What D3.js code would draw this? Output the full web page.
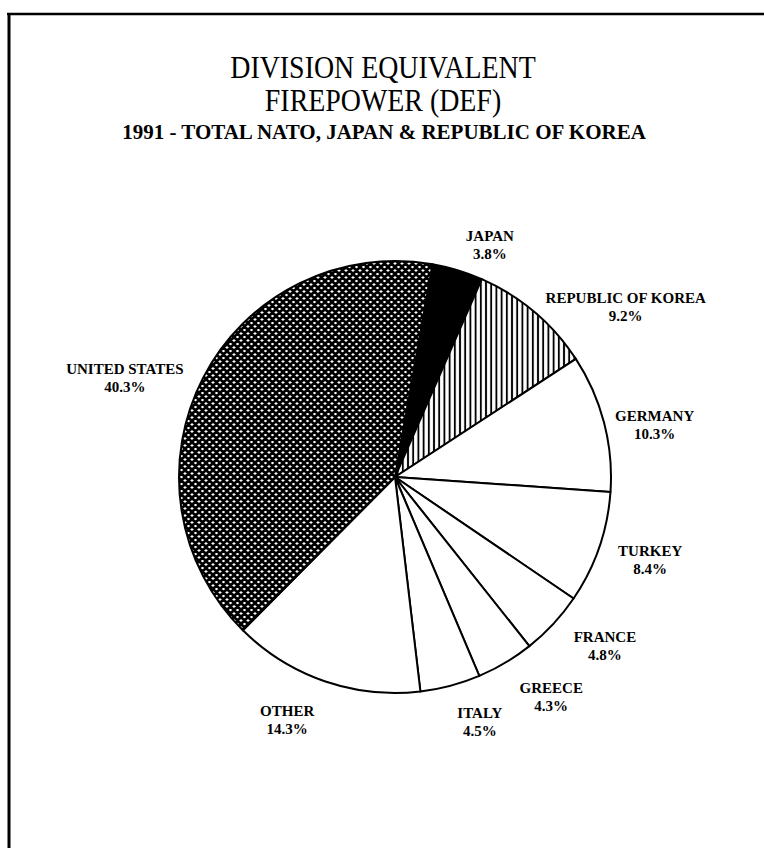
<!DOCTYPE html>
<html>
<head>
<meta charset="utf-8">
<script src="https://cdn.jsdelivr.net/npm/d3@7"></script>
<style>
  html, body { margin: 0; padding: 0; background: #fff; }
  svg { display: block; }
</style>
</head>
<body>
<svg id="chart" width="764" height="848"></svg>
<script>
// ---- data ----
const categories = ["JAPAN", "REPUBLIC OF KOREA", "GERMANY", "TURKEY", "FRANCE", "GREECE", "ITALY", "OTHER", "UNITED STATES"];
const values = [3.8, 9.2, 10.3, 8.4, 4.8, 4.3, 4.5, 14.3, 40.3];
const valueLabels = ["3.8%", "9.2%", "10.3%", "8.4%", "4.8%", "4.3%", "4.5%", "14.3%", "40.3%"];
const fills = ["black", "url(#vlines)", "white", "white", "white", "white", "white", "white", "url(#xhatch)"];
// label placement (polar, degrees clockwise from 12 o'clock, and radius)
const labelAngles = [22.1, 53.5, 78.5, 107.8, 128.7, 144.5, 160.8, 204.0, 290.3];
const labelRadii = [252, 287, 265, 268, 269, 269, 258, 265, 288];

const titleLines = ["DIVISION EQUIVALENT", "FIREPOWER (DEF)"];
const subtitle = "1991 - TOTAL NATO, JAPAN & REPUBLIC OF KOREA";

// ---- drawing ----
const svg = d3.select("#chart");
const W = 764, H = 848;
const cx = 395, cy = 477, R = 216;

const defs = svg.append("defs");
const xh = defs.append("pattern").attr("id", "xhatch")
  .attr("patternUnits", "userSpaceOnUse").attr("width", 7).attr("height", 7);
xh.append("rect").attr("width", 7).attr("height", 7).attr("fill", "white");
xh.append("path").attr("d", "M-1,-1L8,8M8,-1L-1,8M-1,6L1,8M6,-1L8,1M-1,1L1,-1M6,8L8,6")
  .attr("stroke", "black").attr("stroke-width", 2.7);

const vl = defs.append("pattern").attr("id", "vlines")
  .attr("patternUnits", "userSpaceOnUse").attr("width", 5.2).attr("height", 10);
vl.append("rect").attr("width", 5.2).attr("height", 10).attr("fill", "white");
vl.append("line").attr("x1", 2.6).attr("x2", 2.6).attr("y1", 0).attr("y2", 10)
  .attr("stroke", "black").attr("stroke-width", 1.9);

// frame
svg.append("line").attr("x1", 7).attr("x2", W).attr("y1", 14).attr("y2", 14)
  .attr("stroke", "black").attr("stroke-width", 2.5);
svg.append("line").attr("x1", 9).attr("x2", 9).attr("y1", 13).attr("y2", H)
  .attr("stroke", "black").attr("stroke-width", 3);

// titles
const tg = svg.append("g").attr("font-family", "'Liberation Serif', 'Times New Roman', serif")
  .attr("text-anchor", "middle").attr("fill", "black");
tg.selectAll("text.title").data(titleLines).join("text").attr("class", "title")
  .attr("transform", (d, i) => `translate(383,${78 + i * 33}) scale(0.9,1)`)
  .attr("font-size", 31).text(d => d);
tg.append("text").attr("x", 384).attr("y", 139)
  .attr("font-size", 21).attr("font-weight", "bold").text(subtitle);

// pie
const start = 10 * Math.PI / 180;
const pie = d3.pie().sort(null).value(d => d).startAngle(start).endAngle(start + 2 * Math.PI);
const arcs = pie(values);
const arc = d3.arc().innerRadius(0).outerRadius(R);

const g = svg.append("g").attr("transform", `translate(${cx},${cy})`);
g.selectAll("path").data(arcs).join("path")
  .attr("d", arc)
  .attr("fill", (d, i) => fills[i])
  .attr("stroke", "black").attr("stroke-width", 2).attr("stroke-linejoin", "round");

// labels
const lg = g.append("g").attr("font-family", "'Liberation Serif', 'Times New Roman', serif")
  .attr("font-weight", "bold").attr("font-size", 15).attr("text-anchor", "middle");
categories.forEach((c, i) => {
  const a = labelAngles[i] * Math.PI / 180;
  const x = labelRadii[i] * Math.sin(a);
  const y = -labelRadii[i] * Math.cos(a);
  const t = lg.append("g").attr("transform", `translate(${x},${y})`);
  t.append("text").attr("y", -3).text(c);
  t.append("text").attr("y", 15).text(valueLabels[i]);
});
</script>
</body>
</html>
